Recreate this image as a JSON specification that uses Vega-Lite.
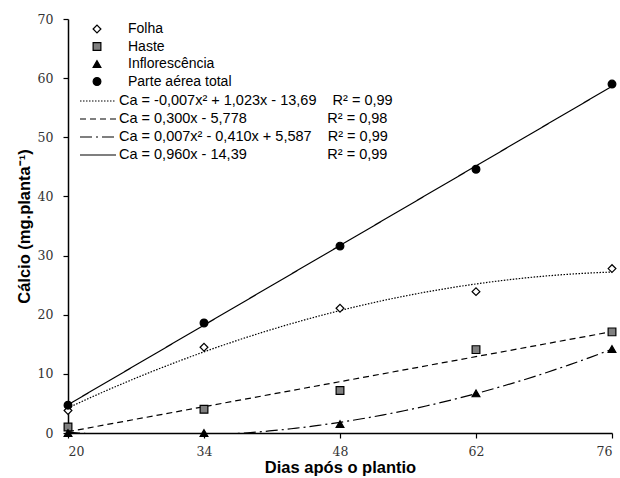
{
  "$schema": "https://vega.github.io/schema/vega-lite/v6.json",
  "width": 544,
  "height": 414,
  "autosize": {"type": "none"},
  "padding": {"left": 68, "top": 19, "right": 8, "bottom": 45},
  "background": "white",
  "config": {"view": {"stroke": null}, "font": "Liberation Sans"},
  "data": {
    "values": [
      {"dias": 20, "parte": "Folha", "ajuste": "f", "ca": 3.8},
      {"dias": 34, "parte": "Folha", "ajuste": "f", "ca": 14.5},
      {"dias": 48, "parte": "Folha", "ajuste": "f", "ca": 21.1},
      {"dias": 62, "parte": "Folha", "ajuste": "f", "ca": 23.9},
      {"dias": 76, "parte": "Folha", "ajuste": "f", "ca": 27.8},
      {"dias": 20, "parte": "Haste", "ajuste": "h", "ca": 1.0},
      {"dias": 34, "parte": "Haste", "ajuste": "h", "ca": 4.0},
      {"dias": 48, "parte": "Haste", "ajuste": "h", "ca": 7.2},
      {"dias": 62, "parte": "Haste", "ajuste": "h", "ca": 14.1},
      {"dias": 76, "parte": "Haste", "ajuste": "h", "ca": 17.1},
      {"dias": 20, "parte": "Inflorescência", "ajuste": "i", "ca": 0},
      {"dias": 34, "parte": "Inflorescência", "ajuste": "i", "ca": 0},
      {"dias": 48, "parte": "Inflorescência", "ajuste": "i", "ca": 1.5},
      {"dias": 62, "parte": "Inflorescência", "ajuste": "i", "ca": 6.7},
      {"dias": 76, "parte": "Inflorescência", "ajuste": "i", "ca": 14.2},
      {"dias": 20, "parte": "Parte aérea total", "ajuste": "t", "ca": 4.7},
      {"dias": 34, "parte": "Parte aérea total", "ajuste": "t", "ca": 18.6},
      {"dias": 48, "parte": "Parte aérea total", "ajuste": "t", "ca": 31.6},
      {"dias": 62, "parte": "Parte aérea total", "ajuste": "t", "ca": 44.6},
      {"dias": 76, "parte": "Parte aérea total", "ajuste": "t", "ca": 59.0}
    ]
  },
  "encoding": {
    "x": {
      "field": "dias", "type": "quantitative",
      "scale": {"domain": [20, 76], "nice": false, "zero": false},
      "axis": {
        "title": "Dias após o plantio", "values": [20, 34, 48, 62, 76], "grid": false,
        "domainColor": "black", "domainWidth": 1.5, "tickColor": "black", "tickWidth": 1.2, "tickSize": 5,
        "labelFont": "DejaVu Serif", "labelFontSize": 12.5, "labelColor": "#333", "labelPadding": 7,
        "titleFont": "Liberation Sans", "titleFontSize": 16.5, "titleFontWeight": "bold", "titleColor": "black", "titlePadding": 2
      }
    },
    "y": {
      "field": "ca", "type": "quantitative",
      "scale": {"domain": [0, 70], "nice": false},
      "axis": {
        "title": "Cálcio (mg.planta⁻¹)", "values": [0, 10, 20, 30, 40, 50, 60, 70], "grid": false,
        "domainColor": "black", "domainWidth": 1.5, "tickColor": "black", "tickWidth": 1.2, "tickSize": 5,
        "labelFont": "DejaVu Serif", "labelFontSize": 12.5, "labelColor": "#333", "labelPadding": 10,
        "titleFont": "Liberation Sans", "titleFontSize": 16.5, "titleFontWeight": "bold", "titleColor": "black", "titlePadding": 5
      }
    }
  },
  "layer": [
    {
      "transform": [
        {"filter": "datum.ajuste == 'f' || datum.ajuste == 'i'"},
        {"regression": "ca", "on": "dias", "groupby": ["ajuste"], "method": "poly", "order": 2}
      ],
      "mark": {"type": "line", "color": "black", "strokeWidth": 1.2, "clip": true},
      "encoding": {
        "strokeDash": {
          "field": "ajuste", "type": "nominal",
          "scale": {"domain": ["f", "h", "i", "t"], "range": [[1.5, 1.5], [6, 4], [12, 4, 2, 4], [1, 0]]},
          "legend": {
            "title": null, "orient": "none", "legendX": 20, "legendY": 72, "padding": 0,
            "symbolType": "M-2,0H2", "symbolSize": 324, "symbolStrokeColor": "black", "symbolStrokeWidth": 1.2, "symbolFillColor": "transparent",
            "labelFont": "Liberation Sans", "labelFontSize": 14.5, "labelColor": "black", "labelOffset": 11, "rowPadding": 1,
            "labelLimit": 400,
            "labelExpr": "{'f': 'Ca = -0,007x² + 1,023x - 13,69\u00a0\u00a0\u00a0\u00a0R² = 0,99', 'h': 'Ca = 0,300x - 5,778\u00a0\u00a0\u00a0\u00a0\u00a0\u00a0\u00a0\u00a0\u00a0\u00a0\u00a0\u00a0\u00a0\u00a0\u00a0\u00a0\u00a0\u00a0\u00a0\u00a0R² = 0,98', 'i': 'Ca = 0,007x² - 0,410x + 5,587\u00a0\u00a0\u00a0\u00a0R² = 0,99', 't': 'Ca = 0,960x - 14,39\u00a0\u00a0\u00a0\u00a0\u00a0\u00a0\u00a0\u00a0\u00a0\u00a0\u00a0\u00a0\u00a0\u00a0\u00a0\u00a0\u00a0\u00a0\u00a0\u00a0R² = 0,99'}[datum.label]"
          }
        }
      }
    },
    {
      "transform": [
        {"filter": "datum.ajuste == 'h' || datum.ajuste == 't'"},
        {"regression": "ca", "on": "dias", "groupby": ["ajuste"], "method": "linear"}
      ],
      "mark": {"type": "line", "color": "black", "strokeWidth": 1.2, "clip": true},
      "encoding": {
        "strokeDash": {"field": "ajuste", "type": "nominal"}
      }
    },
    {
      "mark": {"type": "point", "filled": true, "strokeWidth": 1.2, "size": 60, "opacity": 1},
      "encoding": {
        "shape": {
          "field": "parte", "type": "nominal",
          "scale": {"domain": ["Folha", "Haste", "Inflorescência", "Parte aérea total"], "range": ["diamond", "square", "triangle-up", "circle"]},
          "legend": {
            "title": null, "orient": "none", "legendX": 22, "legendY": 3, "padding": 0,
            "symbolSize": 60, "symbolStrokeWidth": 1.2,
            "labelFont": "Liberation Sans", "labelFontSize": 14, "labelColor": "black", "labelOffset": 24, "rowPadding": 3.5
          }
        },
        "fill": {
          "field": "parte", "type": "nominal",
          "scale": {"domain": ["Folha", "Haste", "Inflorescência", "Parte aérea total"], "range": ["white", "#808080", "black", "black"]},
          "legend": {
            "title": null, "orient": "none", "legendX": 22, "legendY": 3, "padding": 0,
            "symbolSize": 60, "symbolStrokeWidth": 1.2,
            "labelFont": "Liberation Sans", "labelFontSize": 14, "labelColor": "black", "labelOffset": 24, "rowPadding": 3.5
          }
        },
        "stroke": {
          "field": "parte", "type": "nominal",
          "scale": {"domain": ["Folha", "Haste", "Inflorescência", "Parte aérea total"], "range": ["black", "black", "black", "black"]},
          "legend": {
            "title": null, "orient": "none", "legendX": 22, "legendY": 3, "padding": 0,
            "symbolSize": 60, "symbolStrokeWidth": 1.2,
            "labelFont": "Liberation Sans", "labelFontSize": 14, "labelColor": "black", "labelOffset": 24, "rowPadding": 3.5
          }
        }
      }
    }
  ]
}
